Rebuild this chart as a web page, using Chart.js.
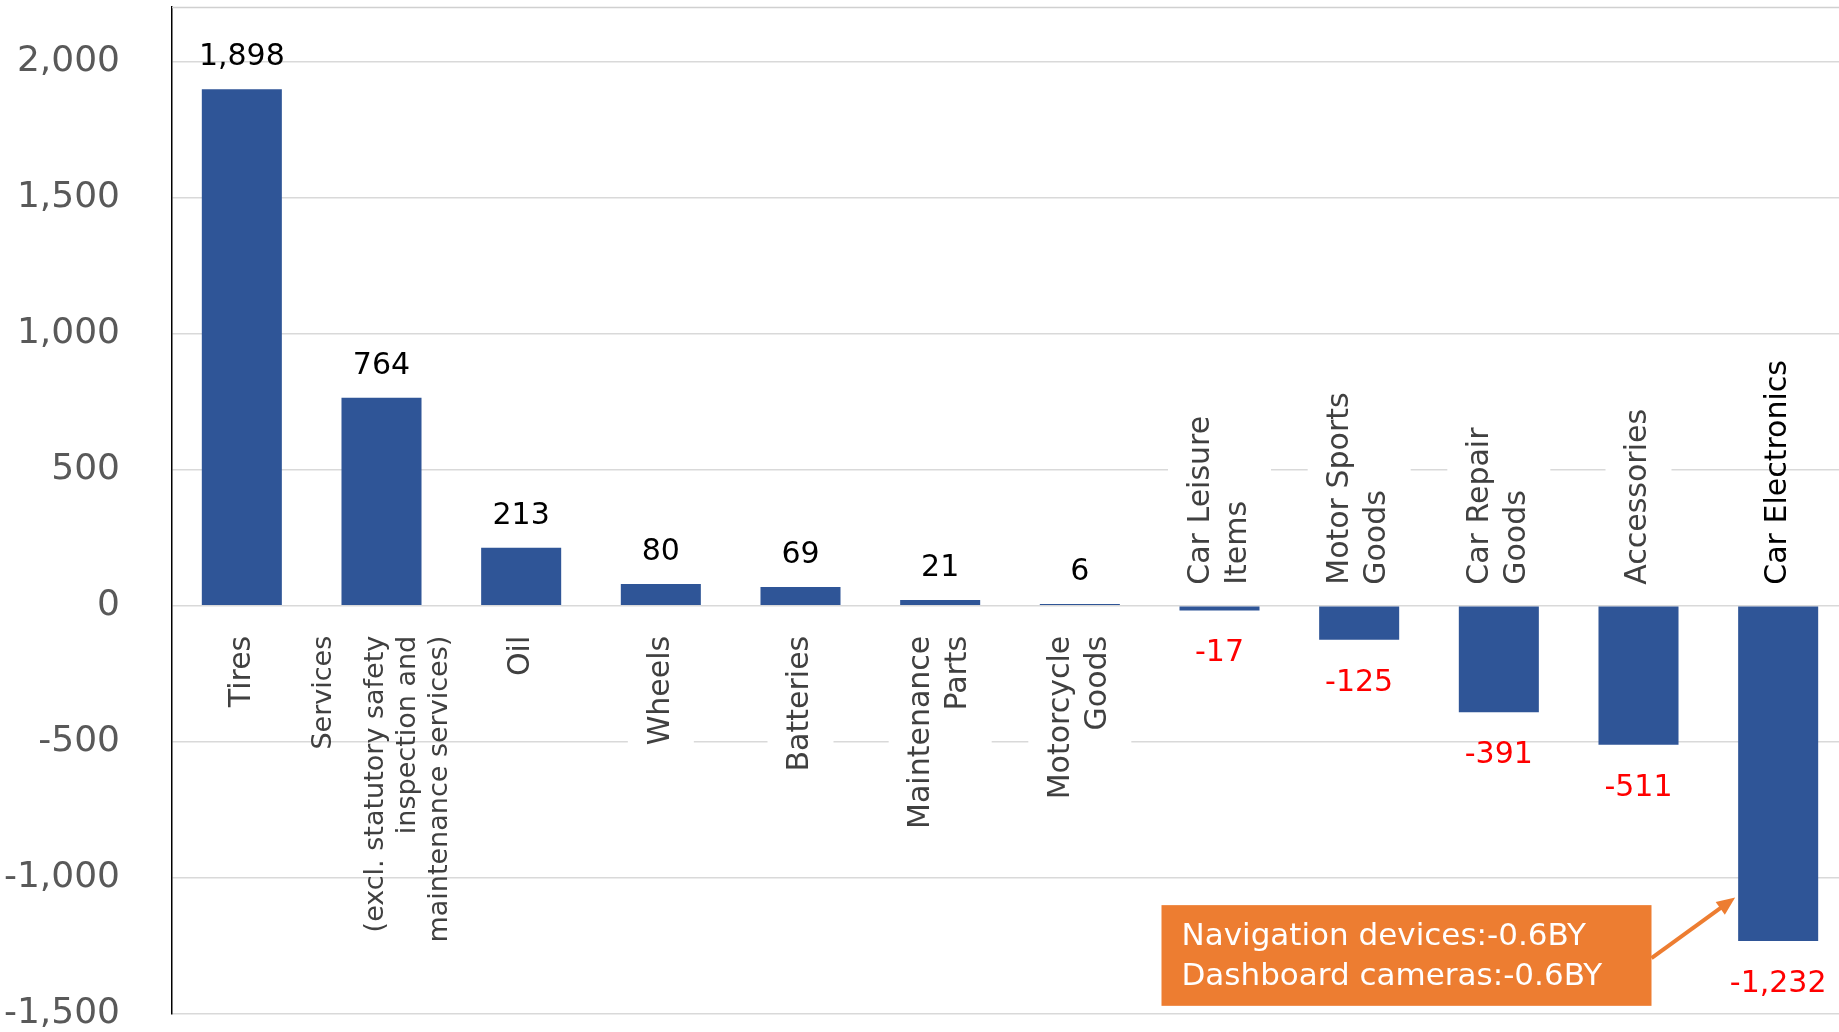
<!DOCTYPE html>
<html>
<head>
<meta charset="utf-8">
<script src="https://cdn.jsdelivr.net/npm/chart.js@4.4.1/dist/chart.umd.min.js"></script>
<style>
    html, body { margin: 0; padding: 0; background: #fff; overflow: hidden; }
    #wrap { width: 1860px; height: 1032px; }
</style>
</head>
<body>
<div id="wrap"><canvas id="myChart"></canvas></div>
<script>
const categories = ["Tires", "Services", "Oil", "Wheels", "Batteries", "Maintenance Parts",
    "Motorcycle Goods", "Car Leisure Items", "Motor Sports Goods", "Car Repair Goods", "Accessories", "Car Electronics"];

const categoryLines = [
    ["Tires"],
    ["Services", "(excl. statutory safety", "inspection and", "maintenance services)"],
    ["Oil"],
    ["Wheels"],
    ["Batteries"],
    ["Maintenance", "Parts"],
    ["Motorcycle", "Goods"],
    ["Car Leisure", "Items"],
    ["Motor Sports", "Goods"],
    ["Car Repair", "Goods"],
    ["Accessories"],
    ["Car Electronics"]
];

const values = [1898, 764, 213, 80, 69, 21, 6, -17, -125, -391, -511, -1232];

const yTicks = [-1500, -1000, -500, 0, 500, 1000, 1500, 2000];

const noteLines = ["Navigation devices:-0.6BY", "Dashboard cameras:-0.6BY"];

// label styling (white box behind, colour)
const labelBoxed = [false, false, false, true, true, true, true, true, true, true, true, false];
const labelColor = categories.map((c, i) => i === categories.length - 1 ? "#000000" : "#404040");

const FONT = "DejaVu Sans";

const labelsPlugin = {
    id: "labelsPlugin",
    afterDatasetsDraw(chart) {
        const ctx = chart.ctx;
        const xs = chart.scales.x;
        const ys = chart.scales.y;
        const area = chart.chartArea;
        const y0 = ys.getPixelForValue(0);

        ctx.save();

        // top border of the plot
        ctx.strokeStyle = "#d0d0d0";
        ctx.lineWidth = 1.5;
        ctx.beginPath();
        ctx.moveTo(area.left, area.top + 0.5);
        ctx.lineTo(area.right, area.top + 0.5);
        ctx.stroke();

        // category labels, rotated
        ctx.textBaseline = "middle";
        categoryLines.forEach((lines, i) => {
            const long = lines.length > 2;
            ctx.font = (long ? "27px " : "30px ") + FONT;
            const cx = xs.getPixelForValue(i);
            const positive = values[i] >= 0;
            const spacing = long ? 32 : 37;
            const firstGap = long ? 52 : spacing;
            const offsets = lines.map((l, k) => k === 0 ? 0 : firstGap + (k - 1) * spacing);
            const total = offsets[offsets.length - 1];
            const anchor = positive ? y0 + 30 : y0 - 21;
            const longest = Math.max(...lines.map(l => ctx.measureText(l).width));

            if (labelBoxed[i]) {
                const left = cx - total / 2 - 15 - 18;
                const w = total + 30 + 36;
                const top = positive ? anchor - 8 : anchor - longest - 8;
                ctx.fillStyle = "#ffffff";
                ctx.fillRect(left, top, w, longest + 16);
            }

            ctx.fillStyle = labelColor[i];
            lines.forEach((line, k) => {
                const lx = cx - total / 2 + offsets[k];
                ctx.save();
                ctx.translate(lx, anchor);
                ctx.rotate(-Math.PI / 2);
                ctx.textAlign = positive ? "right" : "left";
                ctx.fillText(line, 0, 0);
                ctx.restore();
            });
        });

        // value labels
        ctx.font = "30px " + FONT;
        ctx.textAlign = "center";
        ctx.textBaseline = "middle";
        values.forEach((v, i) => {
            const cx = xs.getPixelForValue(i);
            const yEnd = ys.getPixelForValue(v);
            ctx.fillStyle = v >= 0 ? "#000000" : "#ff0000";
            ctx.fillText(v.toLocaleString("en-US"), cx, v >= 0 ? yEnd - 32 : yEnd + 43);
        });

        // note box with arrow
        const boxLeft = xs.getPixelForValue(7) - 58;
        const boxRight = xs.getPixelForValue(10) + 13;
        const boxTop = ys.getPixelForValue(-1100);
        const boxBottom = ys.getPixelForValue(-1470);
        ctx.fillStyle = "#ED7D31";
        ctx.fillRect(boxLeft, boxTop, boxRight - boxLeft, boxBottom - boxTop);

        ctx.fillStyle = "#ffffff";
        ctx.font = "31px " + FONT;
        ctx.textAlign = "left";
        noteLines.forEach((t, k) => {
            ctx.fillText(t, boxLeft + 20, boxTop + 32 + k * 40);
        });

        const ax = boxRight, ay = ys.getPixelForValue(-1295);
        const tx = xs.getPixelForValue(11) - 43, ty = ys.getPixelForValue(-1072);
        const ang = Math.atan2(ty - ay, tx - ax);
        ctx.strokeStyle = "#ED7D31";
        ctx.lineWidth = 4;
        ctx.beginPath();
        ctx.moveTo(ax, ay);
        ctx.lineTo(tx - 14 * Math.cos(ang), ty - 14 * Math.sin(ang));
        ctx.stroke();
        ctx.fillStyle = "#ED7D31";
        ctx.beginPath();
        ctx.moveTo(tx, ty);
        ctx.lineTo(tx - 20 * Math.cos(ang - 0.4), ty - 20 * Math.sin(ang - 0.4));
        ctx.lineTo(tx - 20 * Math.cos(ang + 0.4), ty - 20 * Math.sin(ang + 0.4));
        ctx.closePath();
        ctx.fill();

        ctx.restore();
    }
};

const myChart = document.getElementById("myChart");
const chart = new Chart(myChart, {
    type: "bar",
    data: {
        labels: categories,
        datasets: [{
            data: values,
            backgroundColor: "#2F5597",
            borderWidth: 0,
            barPercentage: 0.573,
            categoryPercentage: 1
        }]
    },
    options: {
        responsive: true,
        maintainAspectRatio: false,
        animation: false,
        layout: { padding: { top: 7, bottom: 18, left: 0, right: 12 } },
        plugins: {
            legend: { display: false },
            tooltip: { enabled: false }
        },
        scales: {
            x: { display: false },
            y: {
                min: -1500,
                max: 2200,
                afterBuildTicks: scale => {
                    scale.ticks = yTicks.map(v => ({ value: v }));
                },
                afterFit: scale => {
                    scale.width = 172;
                    scale.paddingTop = 0;
                    scale.paddingBottom = 0;
                },
                ticks: {
                    padding: 52,
                    color: "#595959",
                    font: { family: FONT, size: 36 },
                    callback: v => v.toLocaleString("en-US")
                },
                grid: {
                    color: "#d9d9d9",
                    lineWidth: 1.5,
                    drawTicks: false
                },
                border: { color: "#000000", width: 1.5 }
            }
        }
    },
    plugins: [labelsPlugin]
});
</script>
</body>
</html>
